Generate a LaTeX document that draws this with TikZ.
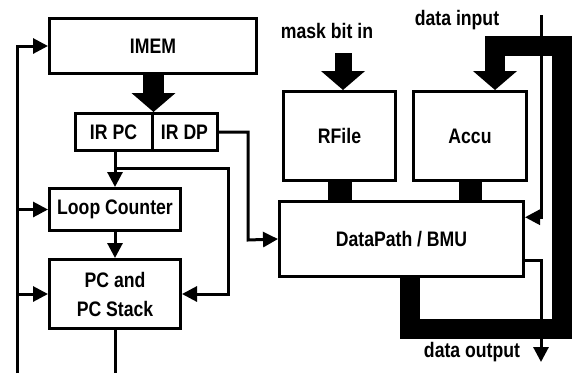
\documentclass[tikz,border=0pt]{standalone}
\usepackage{fontspec}
\setmainfont{Liberation Sans}[FakeStretch=0.84]
\usetikzlibrary{arrows.meta}

\tikzset{
  blk/.style={draw,line width=3pt,inner sep=0pt,align=center,
    font=\bfseries\fontsize{21}{29}\selectfont},
  lbl/.style={inner sep=0pt,font=\bfseries\fontsize{21}{24}\selectfont},
  wire/.style={line width=3pt},
  sig/.style={wire,-{Triangle[length=15pt,width=15pt]}},
  fat/.style={line width=#1,line join=miter},
  fatarrow/.style={line width=#1,line join=miter,-{Triangle[length=19pt,width=43pt]}},
}

\begin{document}
\begin{tikzpicture}[x=1pt,y=-1pt]
   \useasboundingbox (0,0) rectangle (573,373);
   \node[blk,minimum width=207pt,minimum height=55pt] (imem) at (153,46) {IMEM};
   \node[blk,minimum width=77pt,minimum height=37pt] (irpc) at (113.5,132) {IR PC};
   \node[blk,minimum width=65pt,minimum height=37pt] (irdp) at (184.5,132) {IR DP};
   \node[blk,minimum width=131pt,minimum height=42pt] (loop) at (115,209.5) {Loop Counter};
   \node[blk,minimum width=131pt,minimum height=69pt] (pcs) at (115,294) {PC and\\PC Stack};
   \node[blk,minimum width=112pt,minimum height=89pt] (rfile) at (339.5,136) {RFile};
   \node[blk,minimum width=113pt,minimum height=89pt] (accu) at (470,136) {Accu};
   \node[blk,minimum width=244pt,minimum height=75pt] (dp) at (401.5,239) {DataPath / BMU};
   \node[lbl] (maskin) at (327,31) {mask bit in};
   \node[lbl] (datain) at (457,20) {data input};
   \node[lbl] (dataout) at (472,352) {data output};

   \coordinate (fb) at (17,373);
   \coordinate (pcout) at (115,373);
   \coordinate (tap) at (115,168);
   \coordinate (rt) at (228,294);
   \coordinate (dpin) at (248,240);
   \coordinate (din) at (541,15);
   \coordinate (dout) at (541,362);
   \coordinate (mask) at (343,53);
   \coordinate (b1) at (410,329);
   \coordinate (b2) at (562,329);
   \coordinate (b3) at (562,46);
   \coordinate (b4) at (495,46);

   \draw[fatarrow=21pt] (irpc.north east |- imem.south) -- (irpc.north east);
   \draw[fatarrow=17pt] (mask) -- (mask |- rfile.north);
   \draw[fat=24pt] (rfile.south) -- (rfile.south |- dp.north);
   \draw[fat=23pt] (accu.south) -- (accu.south |- dp.north);
   \draw[fatarrow=20pt] (b1 |- dp.south) -- (b1) -- (b2) -- (b3) -- (b4) -- (b4 |- accu.north);

   \draw[sig] (fb) |- (imem.west);
   \draw[sig] (fb |- loop.west) -- (loop.west);
   \draw[sig] (fb |- pcs.west) -- (pcs.west);
   \draw[wire] (pcs.south) -- (pcout);
   \draw[sig] (irpc.south -| loop.north) -- (loop.north);
   \draw[sig] (loop.south) -- (pcs.north);
   \draw[sig] (tap) -| (rt) -- (pcs.east);
   \draw[sig] (irdp.east) -| (dpin) -- (dp.west);
   \draw[sig] (din) |- (dp.10);
   \draw[sig] (dp.-10) -| (dout);
\end{tikzpicture}
\end{document}
